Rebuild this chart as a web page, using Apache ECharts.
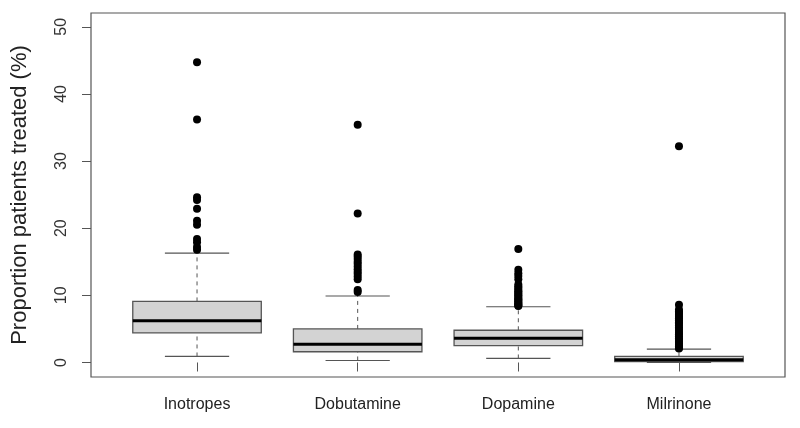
<!DOCTYPE html>
<html><head><meta charset="utf-8">
<script src="https://cdn.jsdelivr.net/npm/echarts@6/dist/echarts.min.js"></script>
<style>html,body{margin:0;padding:0;background:#fff}#c{width:800px;height:428px}</style>
</head><body><div id="c"></div>
<script>
const categories = ['Inotropes', 'Dobutamine', 'Dopamine', 'Milrinone'];
const lowerWhisker = [0.9, 0.3, 0.6, 0.0];
const q1 = [4.4, 1.6, 2.5, 0.15];
const median = [6.2, 2.7, 3.6, 0.4];
const q3 = [9.1, 5.0, 4.8, 0.92];
const upperWhisker = [16.3, 9.9, 8.3, 2.0];
const outliersInotropes = [44.7, 36.2, 24.6, 24.2, 22.9, 21.1, 20.5, 18.4, 17.9, 17.2, 16.8];
const outliersDobutamine = [35.4, 22.2, 16.1, 15.8, 15.4, 15.0, 14.7, 14.3, 13.9, 13.5, 13.2, 12.8, 12.4, 10.8, 10.5];
const outliersDopamine = [16.9, 13.8, 13.3, 12.9, 12.4, 11.6, 11.3, 11.1, 10.8, 10.6, 10.4, 10.2, 10.0, 9.8, 9.6, 9.4, 9.3, 9.1, 8.9, 8.8, 8.6, 8.5, 8.4];
const outliersMilrinone = [32.2, 8.6, 7.9, 7.6, 7.4, 7.1, 6.8, 6.6, 6.3, 6.0, 5.8, 5.5, 5.2, 5.0, 4.7, 4.4, 4.2, 3.9, 3.6, 3.4, 3.1, 2.9, 2.6, 2.4, 2.2, 2.1];
const yTicks = [0, 10, 20, 30, 40, 50];
const yTitle = 'Proportion patients treated (%)';

const allOutliers = [outliersInotropes, outliersDobutamine, outliersDopamine, outliersMilrinone];
const boxData = categories.map((c, i) => [i + 1, lowerWhisker[i], q1[i], median[i], q3[i], upperWhisker[i]]);
const outlierData = [];
allOutliers.forEach((arr, i) => arr.forEach(v => outlierData.push([i + 1, v])));

const chart = echarts.init(document.getElementById('c'));
const FONT = 'Liberation Sans, Arial, sans-serif';
chart.setOption({
  animation: false,
  backgroundColor: '#fff',
  grid: { left: 91, right: 15, top: 13, bottom: 51, show: true, borderColor: '#555', borderWidth: 1.2, backgroundColor: 'transparent' },
  xAxis: {
    type: 'value', min: 0.34, max: 4.66,
    splitLine: { show: false },
    axisLine: { show: false },
    axisTick: { show: true, length: 9, customValues: [1, 2, 3, 4], lineStyle: { color: '#555', width: 1 } },
    axisLabel: { customValues: [1, 2, 3, 4], margin: 20, fontSize: 16, color: '#222', fontFamily: FONT,
      formatter: v => categories[Math.round(v) - 1] || '' }
  },
  yAxis: {
    type: 'value', min: -2.16, max: 52.05,
    splitLine: { show: false },
    axisLine: { show: false },
    axisTick: { show: true, length: 9, customValues: yTicks, lineStyle: { color: '#555', width: 1 } },
    axisLabel: { customValues: yTicks, rotate: 90, margin: 21, fontSize: 16, color: '#333', fontFamily: FONT },
    name: yTitle, nameLocation: 'middle', nameRotate: 90, nameGap: 60,
    nameTextStyle: { fontSize: 22, color: '#222', fontFamily: FONT }
  },
  series: [
    {
      type: 'custom',
      data: boxData,
      encode: { x: 0, y: [1, 2, 3, 4, 5] },
      renderItem: function (params, api) {
        const x = api.value(0);
        const lo = api.coord([x, api.value(1)]);
        const b1 = api.coord([x, api.value(2)]);
        const md = api.coord([x, api.value(3)]);
        const b3 = api.coord([x, api.value(4)]);
        const hi = api.coord([x, api.value(5)]);
        const bw = api.size([0.8, 0])[0];
        const cw = api.size([0.4, 0])[0];
        const cx = lo[0];
        const dash = { stroke: '#555', lineWidth: 1, lineDash: [4, 4] };
        const solid = { stroke: '#555', lineWidth: 1.2 };
        return {
          type: 'group',
          children: [
            { type: 'line', shape: { x1: cx, y1: lo[1], x2: cx, y2: b1[1] }, style: dash },
            { type: 'line', shape: { x1: cx, y1: b3[1], x2: cx, y2: hi[1] }, style: dash },
            { type: 'line', shape: { x1: cx - cw / 2, y1: lo[1], x2: cx + cw / 2, y2: lo[1] }, style: solid },
            { type: 'line', shape: { x1: cx - cw / 2, y1: hi[1], x2: cx + cw / 2, y2: hi[1] }, style: solid },
            { type: 'rect', shape: { x: cx - bw / 2, y: b3[1], width: bw, height: b1[1] - b3[1] },
              style: { fill: '#d3d3d3', stroke: '#555', lineWidth: 1.3 } },
            { type: 'line', shape: { x1: cx - bw / 2, y1: md[1], x2: cx + bw / 2, y2: md[1] },
              style: { stroke: '#000', lineWidth: 3 } }
          ]
        };
      }
    },
    {
      type: 'scatter',
      data: outlierData,
      symbol: 'circle',
      symbolSize: 8,
      itemStyle: { color: '#000', opacity: 1 },
      z: 5
    }
  ]
});
</script>
</body></html>
